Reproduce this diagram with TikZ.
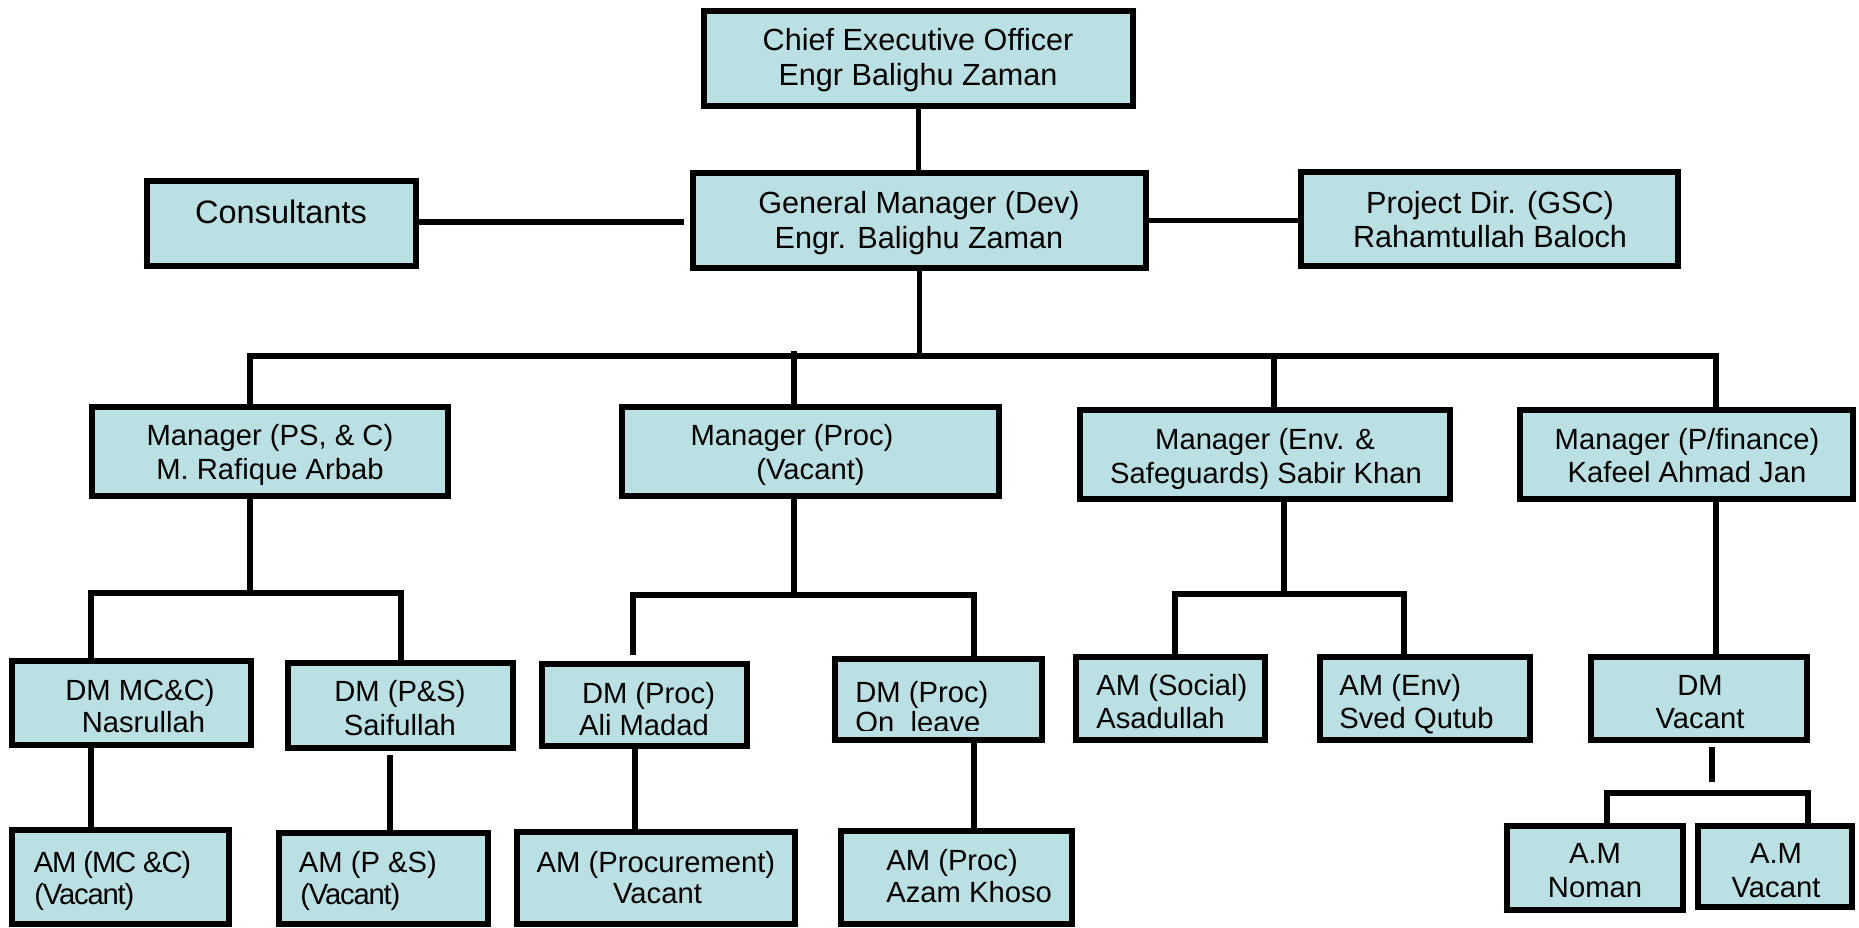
\documentclass[tikz,border=0pt]{standalone}
\usepackage{fontspec}
\setmainfont{Liberation Sans}
\newfontfamily\tightfont[LetterSpace=-4]{Liberation Sans}
\definecolor{boxfill}{HTML}{BBE0E3}
\tikzset{
  orgbox/.style={draw=black, fill=boxfill, line width=3.1pt, inner sep=0pt, rectangle},
  lbl/.style={inner sep=0pt, text=black, font=\fontsize{14.6}{17}\selectfont},
  toplbl/.style={inner sep=0pt, text=black, font=\fontsize{15.3}{18}\selectfont},
  biglbl/.style={inner sep=0pt, text=black, font=\fontsize{16.25}{19}\selectfont},
  conn/.style={draw=black, line width=2.8pt, line join=miter},
}
% name, x1, y1, x2, y2 (outer edges, in px of the reference)
\newcommand\mkbox[5]{%
  \pgfmathsetmacro\bw{(#4-#2-6.2)*0.5}%
  \pgfmathsetmacro\bh{(#5-#3-6.2)*0.5}%
  \node[orgbox, minimum width=\bw pt, minimum height=\bh pt] (#1) at ({(#2+#4)/2},{(#3+#5)/2}) {};%
}
\begin{document}
\begin{tikzpicture}[x=0.5pt, y=-0.5pt]
\useasboundingbox (0,0) rectangle (1859,927);
\fill[white] (0,0) rectangle (1859,927);

% ---------- boxes ----------
\mkbox{ceo}{701}{8}{1136}{109}
\mkbox{gm}{690}{170}{1149}{271}
\mkbox{cons}{144}{178}{419}{269}
\mkbox{pd}{1298}{169}{1681}{269}
\mkbox{mps}{89}{404}{451}{499}
\mkbox{mproc}{619}{404}{1002}{499}
\mkbox{menv}{1077}{407}{1453}{502}
\mkbox{mfin}{1517}{407}{1856}{502}
\mkbox{dmmc}{9}{658}{254}{748}
\mkbox{dmps}{285}{660}{516}{751}
\mkbox{dmali}{539}{661}{750}{749}
\mkbox{dmleave}{832}{656}{1045}{743}
\mkbox{amsoc}{1073}{654}{1268}{743}
\mkbox{amenv}{1317}{654}{1533}{743}
\mkbox{dmvac}{1588}{654}{1810}{743}
\mkbox{ammc}{9}{827}{232}{927}
\mkbox{amps}{276}{830}{491}{927}
\mkbox{amproc}{514}{829}{798}{927}
\mkbox{amazam}{838}{828}{1075}{927}
\mkbox{amnoman}{1504}{823}{1686}{913}
\mkbox{amvac}{1695}{823}{1855}{910}

% ---------- texts ----------
\node[toplbl, anchor=base] (t-ceo1) at (918,50.5) {Chief Executive Officer};
\node[toplbl, anchor=base] (t-ceo2) at (918,85) {Engr Balighu Zaman};
\node[toplbl, anchor=base] (t-gm1) at (919,213.5) {General Manager (Dev)};
\node[toplbl, anchor=base] (t-gm2) at (919,248) {Engr. Balighu Zaman};
\node[biglbl, anchor=base] (t-cons) at (281,223) {Consultants};
\node[toplbl, anchor=base] (t-pd1) at (1490,213.5) {Project Dir. (GSC)};
\node[toplbl, anchor=base] (t-pd2) at (1490,247) {Rahamtullah Baloch};
\node[lbl, anchor=base] (t-mps1) at (270,445) {Manager (PS, \& C)};
\node[lbl, anchor=base] (t-mps2) at (270,479) {M. Rafique Arbab};
\node[lbl, anchor=base] (t-mproc1) at (792,445) {Manager (Proc)};
\node[lbl, anchor=base] (t-mproc2) at (810.5,479) {(Vacant)};
\node[lbl, anchor=base] (t-menv1) at (1265,449) {Manager (Env. \&};
\node[lbl, anchor=base] (t-menv2) at (1266,483) {Safeguards) Sabir Khan};
\node[lbl, anchor=base] (t-mfin1) at (1687,449) {Manager (P/finance)};
\node[lbl, anchor=base] (t-mfin2) at (1687,482) {Kafeel Ahmad Jan};
\node[lbl, anchor=base] (t-dmmc1) at (140,700.5) {DM MC\&C)};
\node[lbl, anchor=base] (t-dmmc2) at (143.5,732.5) {Nasrullah};
\node[lbl, anchor=base] (t-dmps1) at (400,701) {DM (P\&S)};
\node[lbl, anchor=base] (t-dmps2) at (400,735) {Saifullah};
\node[lbl, anchor=base] (t-dmali1) at (648.5,703) {DM (Proc)};
\node[lbl, anchor=base] (t-dmali2) at (644,735.5) {Ali Madad};
\node[lbl, anchor=base west] (t-dml1) at (855,702) {DM (Proc)};
\begin{scope}
  \clip (840,705) rectangle (1040,730);
  \node[lbl, anchor=base west] (t-dml2) at (855,732) {On\ \ leave};
\end{scope}
\node[lbl, anchor=base west] (t-soc1) at (1096,695) {AM (Social)};
\node[lbl, anchor=base west] (t-soc2) at (1096,728) {Asadullah};
\node[lbl, anchor=base west] (t-env1) at (1339,695) {AM (Env)};
\node[lbl, anchor=base west] (t-env2) at (1339,728) {Sved Qutub};
\node[lbl, anchor=base] (t-dmv1) at (1700,695) {DM};
\node[lbl, anchor=base] (t-dmv2) at (1700,728) {Vacant};
\node[lbl, anchor=base west] (t-ammc1) at (33.5,872) {\tightfont AM (MC \&C)};
\node[lbl, anchor=base west] (t-ammc2) at (34,904) {\tightfont (Vacant)};
\node[lbl, anchor=base west] (t-amps1) at (298.5,872) {AM (P \&S)};
\node[lbl, anchor=base west] (t-amps2) at (300,904) {\tightfont (Vacant)};
\node[lbl, anchor=base] (t-amp1) at (656,872) {AM (Procurement)};
\node[lbl, anchor=base] (t-amp2) at (657.5,903) {Vacant};
\node[lbl, anchor=base west] (t-aza1) at (886,870) {AM (Proc)};
\node[lbl, anchor=base west] (t-aza2) at (886,902) {Azam Khoso};
\node[lbl, anchor=base] (t-amn1) at (1595,863) {A.M};
\node[lbl, anchor=base] (t-amn2) at (1595,897) {Noman};
\node[lbl, anchor=base] (t-amv1) at (1776,863) {A.M};
\node[lbl, anchor=base] (t-amv2) at (1776,897) {Vacant};

% ---------- connector coordinates ----------
\coordinate (k1) at (684,222);
\coordinate (b1) at (250,356);
\coordinate (b2) at (794,356);
\coordinate (b2s) at (794,351);
\coordinate (b3) at (1274,356);
\coordinate (b4) at (1716,356);
\coordinate (s1) at (250,593);
\coordinate (s1a) at (91,593);
\coordinate (s1b) at (401,593);
\coordinate (s2) at (794,595);
\coordinate (s2a) at (633,595);
\coordinate (g2a) at (633,655);
\coordinate (s2b) at (974,595);
\coordinate (s3) at (1284,594);
\coordinate (s3a) at (1175,594);
\coordinate (s3b) at (1404,594);
\coordinate (p1) at (390,755);
\coordinate (c1) at (635,749);
\coordinate (v1) at (1712,747);
\coordinate (v2) at (1712,782);
\coordinate (s4a) at (1607,793);
\coordinate (s4b) at (1808,793);

% ---------- connectors ----------
\draw[conn] (ceo.south) -- (ceo.south |- gm.north);
\draw[conn] (cons.east |- k1) -- (k1);
\draw[conn] (gm.east) -- (gm.east -| pd.west);
\draw[conn] (gm.south) -- (gm.south |- b1);
\draw[conn] (b1 |- mps.north) -- (b1) -- (b4) -- (b4 |- mfin.north);
\draw[conn] (b2s) -- (b2 |- mproc.north);
\draw[conn] (b3) -- (b3 |- menv.north);

\draw[conn] (s1 |- mps.south) -- (s1);
\draw[conn] (s1a |- dmmc.north) -- (s1a) -- (s1b) -- (s1b |- dmps.north);
\draw[conn] (s2 |- mproc.south) -- (s2);
\draw[conn] (g2a) -- (s2a) -- (s2b) -- (s2b |- dmleave.north);
\draw[conn] (s3 |- menv.south) -- (s3);
\draw[conn] (s3a |- amsoc.north) -- (s3a) -- (s3b) -- (s3b |- amenv.north);
\draw[conn] (b4 |- mfin.south) -- (b4 |- dmvac.north);

\draw[conn] (s1a |- dmmc.south) -- (s1a |- ammc.north);
\draw[conn] (p1) -- (p1 |- amps.north);
\draw[conn] (c1 |- dmali.south) -- (c1 |- amproc.north);
\draw[conn] (s2b |- dmleave.south) -- (s2b |- amazam.north);
\draw[conn] (v1) -- (v2);
\draw[conn] (s4a |- amnoman.north) -- (s4a) -- (s4b) -- (s4b |- amvac.north);
\end{tikzpicture}
\end{document}
